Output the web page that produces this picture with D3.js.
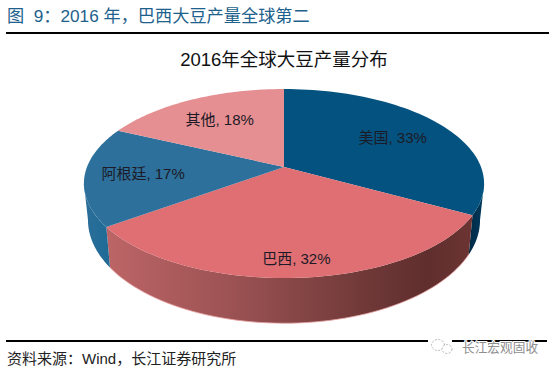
<!DOCTYPE html>
<html>
<head>
<meta charset="utf-8">
<script src="https://cdn.jsdelivr.net/npm/d3@7"></script>
<style>
  html, body { margin: 0; padding: 0; background: #fff; }
  svg { display: block; }
  text { font-family: "Liberation Sans", "Noto Sans CJK SC", sans-serif; white-space: pre; }
</style>
</head>
<body>
<svg id="chart"></svg>
<script>
const categories = ['美国', '巴西', '阿根廷', '其他'];
const shares = [33, 32, 17, 18];
const topColors = ['#04527f', '#df6f73', '#2d709b', '#e68f92'];

const width = 555;
const height = 371;

// Perspective of the tilted disc: near edge looks bigger than far edge
const tilt = 0.175;
const topFace = { cx: 284, cy: 167, rx: 197, ry: 91.6 };
const bottomFace = { cx: 284, cy: 202, rx: 193, ry: 100 };
const silhouette = Math.acos(-tilt); // angle where the rim is widest
const labelRadius = [0.68, 0.85, 0.71, 0.67];

function project(face, angle, r = 1) {
    const x = r * Math.sin(angle);
    const y = -r * Math.cos(angle);
    const w = 1 - tilt * y;
    return [face.cx + face.rx * x / w, face.cy + face.ry * y / w];
}

function arcPoints(face, a0, a1, r = 1) {
    const scale = d3.scaleLinear().domain([0, 60]).range([a0, a1]);
    return d3.range(61).map(i => project(face, scale(i), r));
}

const line = d3.line();

const svg = d3.select('#chart').attr('width', width).attr('height', height);
const defs = svg.append('defs');

const slices = d3.pie().sort(null).value(d => d)(shares);

// Side wall gradients
function wallGradient(id, x0, x1, stops) {
    const g = defs.append('linearGradient').attr('id', id)
        .attr('gradientUnits', 'userSpaceOnUse')
        .attr('x1', x0).attr('x2', x1).attr('y1', 0).attr('y2', 0);
    stops.forEach(s => g.append('stop').attr('offset', s[0]).attr('stop-color', s[1]));
}
wallGradient('wall0', 465, 485, [[0, '#00263f'], [1, '#003a5e']]);
wallGradient('wall1', 105, 470, [[0, '#bd6567'], [0.35, '#9c5253'], [0.7, '#713a39'], [0.88, '#5f2e2d'], [1, '#6b3432']]);
wallGradient('wall2', 84, 110, [[0, '#2b6f99'], [1, '#1f6a96']]);

// Only the near part of the rim has a visible wall
const walls = [
    [silhouette, slices[0].endAngle],
    [slices[1].startAngle, slices[1].endAngle],
    [slices[2].startAngle, 2 * Math.PI - silhouette]
];

svg.append('g').selectAll('path')
    .data(walls)
    .join('path')
    .attr('d', d => line(arcPoints(topFace, d[0], d[1]).concat(arcPoints(bottomFace, d[1], d[0]))) + 'Z')
    .attr('fill', (d, i) => `url(#wall${i})`);

// Soft pink edge under the Brazil wall
svg.append('path')
    .attr('d', line(arcPoints(bottomFace, slices[1].startAngle, slices[1].endAngle)))
    .attr('fill', 'none')
    .attr('stroke', '#e9a3a5')
    .attr('stroke-width', 0.8);

// Top face
svg.append('g').selectAll('path')
    .data(slices)
    .join('path')
    .attr('d', d => line([project(topFace, 0, 0)].concat(arcPoints(topFace, d.startAngle, d.endAngle))) + 'Z')
    .attr('fill', (d, i) => topColors[i]);

// Data labels
svg.append('g').selectAll('text')
    .data(slices)
    .join('text')
    .attr('x', (d, i) => project(topFace, (d.startAngle + d.endAngle) / 2, labelRadius[i])[0])
    .attr('y', (d, i) => project(topFace, (d.startAngle + d.endAngle) / 2, labelRadius[i])[1] + 5.5)
    .attr('text-anchor', 'middle')
    .attr('font-size', 15)
    .attr('fill', '#1c1a26')
    .text((d, i) => `${categories[i]}, ${d.value}%`);

// Header and footer
svg.append('text').attr('x', 7).attr('y', 22).attr('font-size', 17.2).attr('fill', '#1d618c')
    .text('图  9：2016 年，巴西大豆产量全球第二');
svg.append('rect').attr('x', 6).attr('y', 32).attr('width', 543).attr('height', 2).attr('fill', '#000');
svg.append('text').attr('x', 284).attr('y', 66).attr('text-anchor', 'middle').attr('font-size', 18.5)
    .attr('fill', '#111').text('2016年全球大豆产量分布');
svg.append('rect').attr('x', 6).attr('y', 340).attr('width', 541).attr('height', 2).attr('fill', '#000');
svg.append('text').attr('x', 7).attr('y', 364).attr('font-size', 15).attr('fill', '#222')
    .text('资料来源：Wind，长江证券研究所');

// Watermark
svg.append('rect').attr('x', 428).attr('y', 336).attr('width', 24).attr('height', 22).attr('fill', '#fff');
const mark = svg.append('g').attr('fill', '#fff').attr('stroke', '#b5b5b5').attr('stroke-dasharray', '2 1.5');
mark.append('ellipse').attr('cx', 438).attr('cy', 345).attr('rx', 6.5).attr('ry', 5.5);
mark.append('ellipse').attr('cx', 447).attr('cy', 349).attr('rx', 5).attr('ry', 4.5);
svg.append('text').attr('x', 462).attr('y', 352).attr('font-size', 12.7).attr('fill', '#8f8f8f')
    .attr('stroke', '#fff').attr('stroke-width', 2).attr('paint-order', 'stroke')
    .text('长江宏观固收');
</script>
</body>
</html>
